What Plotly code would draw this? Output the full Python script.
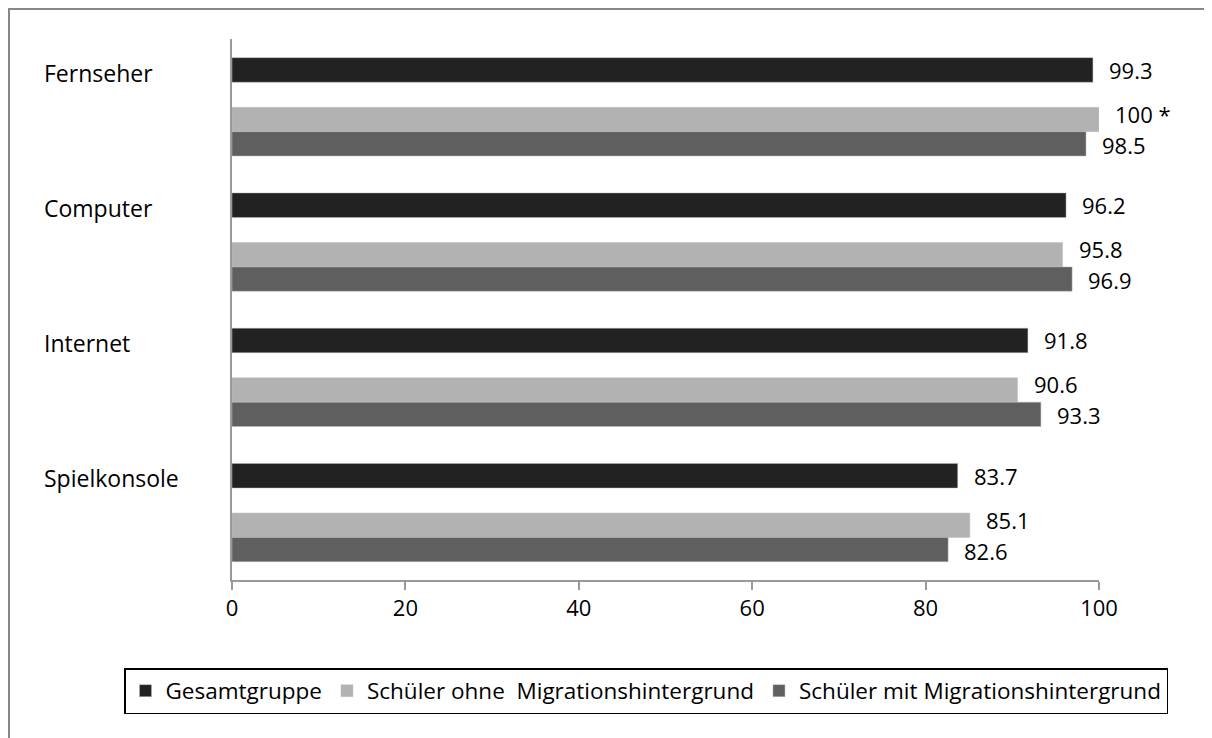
import plotly.graph_objects as go

# ---- data ----
categories = ["Fernseher", "Computer", "Internet", "Spielkonsole"]
series_names = ["Gesamtgruppe", "Schüler ohne\u00a0 Migrationshintergrund", "Schüler mit Migrationshintergrund"]
gesamt = [99.3, 96.2, 91.8, 83.7]
ohne = [100, 95.8, 90.6, 85.1]
mit = [98.5, 96.9, 93.3, 82.6]
ohne_notes = [" *", "", "", ""]
x_ticks = [0, 20, 40, 60, 80, 100]

# ---- layout geometry (page pixels; the page body adds an 8px margin) ----
OFF = 8
W, H = 1212 - OFF, 738 - OFF
L, R, T, B = 232 - OFF, 1099 - OFF, 39 - OFF, 580 - OFF
pw, ph = R - L, B - T
group_px = ph / len(categories)

def px_x(px):
    return (px - OFF - L) / pw

def px_y(py):
    return (B - (py - OFF)) / ph

FONT = "Open Sans"
colors = ["#222222", "#b2b2b2", "#5f5f5f"]
offsets = [-0.362, 0.005, 0.185]
widths = [0.182, 0.18, 0.18]
label_nudge = [0, 5.5, -1]   # px upward shift of value labels vs. bar centre
pad = "\u00a0\u00a0"

def fmt(v):
    return f"{v:g}"

texts = [
    [fmt(v) for v in gesamt],
    [fmt(v) + n for v, n in zip(ohne, ohne_notes)],
    [fmt(v) for v in mit],
]

fig = go.Figure()
for name, vals, col, off, wd in zip(series_names, [gesamt, ohne, mit], colors, offsets, widths):
    fig.add_trace(go.Bar(
        name=name, x=vals, y=categories, orientation="h",
        marker=dict(color=col, line=dict(color="rgba(190,190,190,0.8)", width=0.6)),
        offset=off, width=wd,
        hoverinfo="x+name",
    ))

# value labels, placed at bar ends
for vals, txt, off, wd, nudge in zip([gesamt, ohne, mit], texts, offsets, widths, label_nudge):
    centre_shift = -(off + wd / 2) * group_px + nudge
    for c, v, t in zip(categories, vals, txt):
        fig.add_annotation(
            x=v, xref="x", xanchor="left", xshift=14,
            y=c, yref="y", yanchor="middle", yshift=centre_shift,
            text=t, showarrow=False,
            font=dict(family=FONT, size=22, color="#000000"),
        )

# category labels (left-aligned, as in reference)
for c in categories:
    fig.add_annotation(
        x=px_x(42), xref="paper", xanchor="left",
        y=c, yref="y", yshift=34, yanchor="middle",
        text=c, showarrow=False,
        font=dict(family=FONT, size=23, color="#000000"),
    )

# outer frame (left and top edges visible)
fig.add_shape(type="rect", xref="paper", yref="paper",
              x0=px_x(9), x1=px_x(1240), y0=px_y(770), y1=px_y(9),
              line=dict(color="#878787", width=2), fillcolor="rgba(0,0,0,0)", layer="below")

fig.update_layout(
    width=W, height=H,
    margin=dict(l=L, r=W - R, t=T, b=H - B, autoexpand=False),
    paper_bgcolor="white", plot_bgcolor="white",
    barmode="overlay",
    showlegend=True,
    legend=dict(
        orientation="h", xref="paper", yref="paper",
        x=px_x(124), xanchor="left",
        y=px_y(668), yanchor="top",
        bordercolor="#000000", borderwidth=1.5,
        font=dict(family=FONT, size=22.5, color="#000000"),
        itemclick=False, itemdoubleclick=False,
        tracegroupgap=0,
    ),
    xaxis=dict(
        range=[0, 100], tickvals=x_ticks, ticktext=[str(t) for t in x_ticks],
        showgrid=False, zeroline=False,
        showline=True, linecolor="#999999", linewidth=2,
        ticks="outside", ticklen=8, tickcolor="#999999", tickwidth=2,
        tickfont=dict(family=FONT, size=22, color="#000000"),
        fixedrange=True,
    ),
    yaxis=dict(
        categoryorder="array", categoryarray=categories,
        autorange="reversed", showticklabels=False, ticks="",
        showgrid=False, zeroline=False,
        showline=True, linecolor="#999999", linewidth=2,
        fixedrange=True,
    ),
)

fig.write_html("out.html")
